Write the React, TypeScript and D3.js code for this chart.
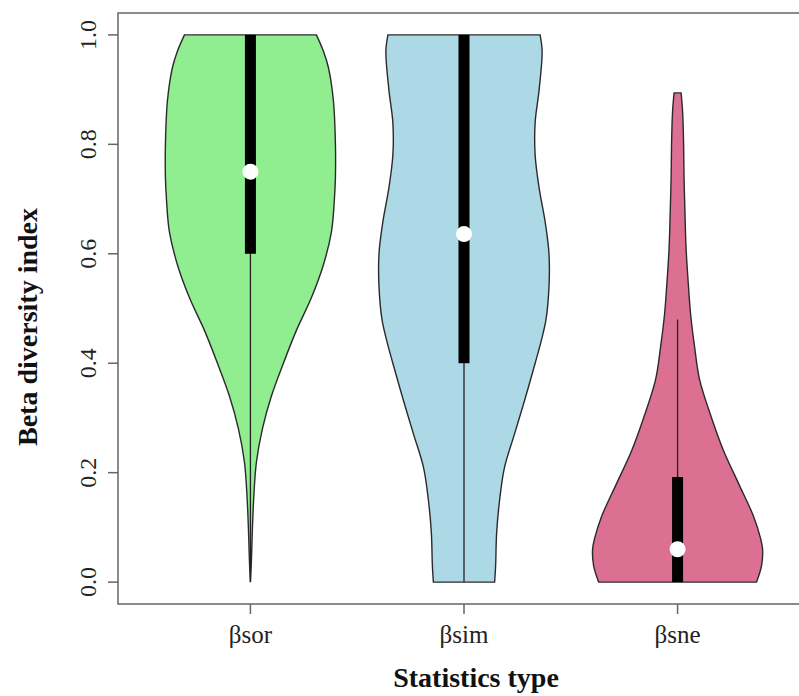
import React from 'react';
import * as d3 from 'd3';

// categories and colours
const categories = ['βsor', 'βsim', 'βsne'];
const fills = ['#90EE90', '#ADD8E6', '#DB7093'];
const yTicks = [0, 0.2, 0.4, 0.6, 0.8, 1.0];

// violin outlines: level -> relative density (max = 1)
const sorLevels = [0, 0.04, 0.1, 0.16, 0.22, 0.28, 0.34, 0.4, 0.46, 0.52, 0.58, 0.64, 0.7, 0.74, 0.8, 0.88, 0.94, 0.97, 1.0];
const sorDensity = [0, 0.012, 0.024, 0.041, 0.071, 0.141, 0.247, 0.388, 0.541, 0.718, 0.859, 0.953, 0.988, 1.0, 1.0, 0.976, 0.918, 0.859, 0.776];

const simLevels = [0, 0.03, 0.09, 0.15, 0.21, 0.27, 0.33, 0.4, 0.44, 0.48, 0.54, 0.6, 0.66, 0.72, 0.78, 0.84, 0.9, 0.97, 1.0];
const simDensity = [0.36, 0.372, 0.384, 0.419, 0.477, 0.593, 0.709, 0.837, 0.907, 0.965, 1.0, 1.0, 0.953, 0.884, 0.837, 0.837, 0.884, 0.919, 0.895];

const sneLevels = [0, 0.03, 0.06, 0.08, 0.12, 0.18, 0.24, 0.3, 0.37, 0.43, 0.49, 0.55, 0.61, 0.68, 0.74, 0.8, 0.86, 0.894];
const sneDensity = [0.929, 0.988, 1.0, 0.976, 0.894, 0.718, 0.541, 0.4, 0.259, 0.2, 0.153, 0.124, 0.1, 0.086, 0.076, 0.071, 0.059, 0.041];

// box stats
const whiskerLow = [0, 0, 0];
const whiskerHigh = [1.0, 1.0, 0.48];
const q1 = [0.6, 0.4, 0];
const q3 = [1.0, 1.0, 0.192];
const medians = [0.75, 0.636, 0.06];

const levels = [sorLevels, simLevels, sneLevels];
const densities = [sorDensity, simDensity, sneDensity];

const W = 799, H = 696;
const left = 118, top = 13, right = 810, bottom = 604;

export default function App() {
  // R style: xlim 0.5..3.5 and ylim 0..1, each stretched by 4%
  const x = d3.scaleLinear().domain([0.38, 3.62]).range([left, right]);
  const y = d3.scaleLinear().domain([-0.04, 1.04]).range([bottom, top]);
  const halfW = 0.398; // category units for density 1

  const font = '"Liberation Serif", "Times New Roman", serif';

  return (
    <svg width={W} height={H} style={{ position: 'absolute', left: 0, top: 0, background: '#fff' }}>
      {categories.map((c, i) => {
        const cx = i + 1;
        const pts = levels[i].map((v, k) => ({ v, d: densities[i][k] }));
        const area = d3.area<{ v: number; d: number }>()
          .y(p => y(p.v))
          .x0(p => x(cx - p.d * halfW))
          .x1(p => x(cx + p.d * halfW))
          .curve(d3.curveCatmullRom.alpha(0.5));
        return (
          <g key={c}>
            <path d={area(pts) || ''} fill={fills[i]} stroke="#2a2a2a" strokeWidth={1.4} />
            <line x1={x(cx)} x2={x(cx)} y1={y(whiskerLow[i])} y2={y(whiskerHigh[i])} stroke="#222" strokeWidth={1.3} />
            <rect x={x(cx) - 5.5} width={11} y={y(q3[i])} height={y(q1[i]) - y(q3[i])} fill="#000" />
            <circle cx={x(cx)} cy={y(medians[i])} r={8} fill="#fff" />
          </g>
        );
      })}

      {/* frame (right side falls outside the picture) */}
      <path d={`M${right},${top}H${left}V${bottom}H${right}`} fill="none" stroke="#666" strokeWidth={1.5} />

      {yTicks.map(t => (
        <g key={t}>
          <line x1={left - 10} x2={left} y1={y(t)} y2={y(t)} stroke="#666" strokeWidth={1.5} />
          <text transform={`translate(96,${y(t)}) rotate(-90)`} textAnchor="middle" fontFamily={font} fontSize={24} fill="#222">
            {t.toFixed(1)}
          </text>
        </g>
      ))}

      {categories.map((c, i) => (
        <g key={'t' + c}>
          <line x1={x(i + 1)} x2={x(i + 1)} y1={bottom} y2={bottom + 10} stroke="#666" strokeWidth={1.5} />
          <text x={x(i + 1)} y={643} textAnchor="middle" fontFamily={font} fontSize={25} fill="#222">{c}</text>
        </g>
      ))}

      <text x={476} y={687} textAnchor="middle" fontFamily={font} fontSize={28} fontWeight="bold" fill="#111">Statistics type</text>
      <text transform={`translate(37,327) rotate(-90)`} textAnchor="middle" fontFamily={font} fontSize={28} fontWeight="bold" fill="#111">
        Beta diversity index
      </text>
    </svg>
  );
}
